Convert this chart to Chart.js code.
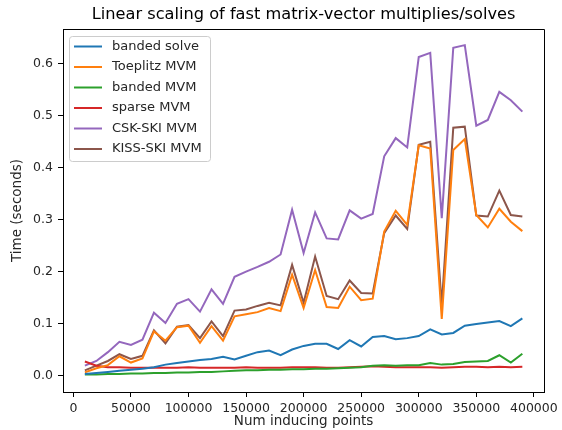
<!DOCTYPE html>
<html>
<head>
<meta charset="utf-8">
<title>Linear scaling of fast matrix-vector multiplies/solves</title>
<script src="https://cdn.jsdelivr.net/npm/chart.js@4/dist/chart.umd.min.js"></script>
<style>
  html, body { margin: 0; padding: 0; background: #fff; }
  canvas { display: block; }
</style>
</head>
<body>
<canvas id="scalingChart" width="562" height="430"></canvas>
<script>
// Number of inducing points (x) and timings in seconds for each method
const inducingPoints = [
  10000, 20000, 30000, 40000, 50000, 60000, 70000, 80000, 90000, 100000,
  110000, 120000, 130000, 140000, 150000, 160000, 170000, 180000, 190000, 200000,
  210000, 220000, 230000, 240000, 250000, 260000, 270000, 280000, 290000, 300000,
  310000, 320000, 330000, 340000, 350000, 360000, 370000, 380000, 390000
];

const bandedSolve = [
  0.003, 0.005, 0.007, 0.009, 0.011, 0.013, 0.016, 0.021, 0.024, 0.027,
  0.030, 0.032, 0.036, 0.031, 0.038, 0.045, 0.048, 0.039, 0.050, 0.057,
  0.061, 0.061, 0.051, 0.068, 0.056, 0.074, 0.076, 0.070, 0.072, 0.076,
  0.089, 0.079, 0.082, 0.096, 0.099, 0.102, 0.105, 0.095, 0.110
];

const toeplitzMvm = [
  0.006, 0.014, 0.020, 0.037, 0.025, 0.033, 0.085, 0.067, 0.093, 0.096,
  0.063, 0.095, 0.067, 0.114, 0.118, 0.122, 0.130, 0.124, 0.194, 0.130,
  0.203, 0.132, 0.130, 0.171, 0.145, 0.148, 0.277, 0.317, 0.290, 0.443,
  0.437, 0.109, 0.434, 0.455, 0.309, 0.285, 0.321, 0.296, 0.278
];

const bandedMvm = [
  0.002, 0.002, 0.003, 0.003, 0.004, 0.004, 0.005, 0.005, 0.006, 0.006,
  0.007, 0.007, 0.008, 0.009, 0.010, 0.010, 0.011, 0.011, 0.012, 0.012,
  0.013, 0.013, 0.014, 0.015, 0.016, 0.019, 0.020, 0.019, 0.020, 0.020,
  0.024, 0.021, 0.022, 0.026, 0.027, 0.028, 0.039, 0.025, 0.042
];

const sparseMvm = [
  0.027, 0.019, 0.016, 0.016, 0.015, 0.015, 0.015, 0.015, 0.015, 0.016,
  0.015, 0.015, 0.015, 0.015, 0.016, 0.015, 0.015, 0.015, 0.016, 0.016,
  0.016, 0.015, 0.015, 0.016, 0.017, 0.018, 0.017, 0.016, 0.016, 0.016,
  0.016, 0.015, 0.016, 0.017, 0.017, 0.016, 0.017, 0.016, 0.017
];

const cskSkiMvm = [
  0.019, 0.028, 0.045, 0.065, 0.059, 0.069, 0.121, 0.101, 0.138, 0.147,
  0.123, 0.166, 0.138, 0.190, 0.200, 0.209, 0.219, 0.233, 0.319, 0.236,
  0.314, 0.264, 0.262, 0.318, 0.302, 0.311, 0.422, 0.457, 0.439, 0.613,
  0.621, 0.303, 0.631, 0.636, 0.481, 0.492, 0.546, 0.530, 0.508
];

const kissSkiMvm = [
  0.010, 0.019, 0.028, 0.041, 0.032, 0.038, 0.087, 0.062, 0.094, 0.097,
  0.072, 0.104, 0.076, 0.125, 0.127, 0.134, 0.140, 0.135, 0.213, 0.140,
  0.229, 0.153, 0.147, 0.183, 0.159, 0.158, 0.274, 0.308, 0.282, 0.444,
  0.450, 0.135, 0.477, 0.479, 0.308, 0.306, 0.356, 0.309, 0.306
];

const seriesNames = ['banded solve', 'Toeplitz MVM', 'banded MVM', 'sparse MVM', 'CSK-SKI MVM', 'KISS-SKI MVM'];
const seriesData = [bandedSolve, toeplitzMvm, bandedMvm, sparseMvm, cskSkiMvm, kissSkiMvm];
const seriesColors = ['#1f77b4', '#ff7f0e', '#2ca02c', '#d62728', '#9467bd', '#8c564b'];

// tick positions on each axis
const xTicks = [0, 50000, 100000, 150000, 200000, 250000, 300000, 350000, 400000];
const yTicks = [0.0, 0.1, 0.2, 0.3, 0.4, 0.5, 0.6];

const chartTitle = 'Linear scaling of fast matrix-vector multiplies/solves';
const FONT = "'DejaVu Sans', sans-serif";
const TEXT = '#262626';

// title over the plot, top + right spines, and the boxed legend in the upper left
const framePlugin = {
  id: 'framePlugin',
  afterDraw(chart) {
    const ctx = chart.ctx;
    const a = chart.chartArea;
    ctx.save();

    ctx.fillStyle = '#000';
    ctx.font = '16.2px ' + FONT;
    ctx.textAlign = 'center';
    ctx.textBaseline = 'middle';
    ctx.fillText(chartTitle, (a.left + a.right) / 2, 15);

    ctx.strokeStyle = '#000';
    ctx.lineWidth = 1;
    ctx.beginPath();
    ctx.moveTo(Math.round(a.left) + 0.5, Math.round(a.top) + 0.5);
    ctx.lineTo(Math.round(a.right) + 0.5, Math.round(a.top) + 0.5);
    ctx.lineTo(Math.round(a.right) + 0.5, Math.round(a.bottom) + 0.5);
    ctx.stroke();

    // legend
    const bx = 69.5, by = 36.5, bw = 141, bh = 125, r = 3;
    ctx.beginPath();
    ctx.moveTo(bx + r, by);
    ctx.arcTo(bx + bw, by, bx + bw, by + bh, r);
    ctx.arcTo(bx + bw, by + bh, bx, by + bh, r);
    ctx.arcTo(bx, by + bh, bx, by, r);
    ctx.arcTo(bx, by, bx + bw, by, r);
    ctx.closePath();
    ctx.fillStyle = 'rgba(255,255,255,0.8)';
    ctx.fill();
    ctx.strokeStyle = '#cccccc';
    ctx.stroke();

    ctx.font = '13px ' + FONT;
    ctx.textBaseline = 'middle';
    ctx.textAlign = 'left';
    chart.data.datasets.forEach((ds, i) => {
      const y = 46.5 + i * 20.5;
      ctx.strokeStyle = ds.borderColor;
      ctx.lineWidth = 2;
      ctx.beginPath();
      ctx.moveTo(74, y);
      ctx.lineTo(102, y);
      ctx.stroke();
      ctx.fillStyle = TEXT;
      ctx.fillText(ds.label, 112, y);
    });
    ctx.restore();
  }
};

new Chart(document.getElementById('scalingChart'), {
  type: 'line',
  data: {
    datasets: seriesNames.map((name, i) => ({
      label: name,
      data: inducingPoints.map((x, j) => ({ x: x, y: seriesData[i][j] })),
      borderColor: seriesColors[i],
      backgroundColor: seriesColors[i],
      borderWidth: 2,
      pointRadius: 0,
      tension: 0,
      fill: false
    }))
  },
  options: {
    responsive: false,
    animation: false,
    layout: { padding: { left: 8, right: 13, top: 29, bottom: 0 } },
    plugins: {
      legend: { display: false },
      tooltip: { enabled: false },
      title: { display: false }
    },
    scales: {
      x: {
        type: 'linear',
        min: -9000,
        max: 409000,
        afterFit(scale) { scale.height = 38; },
        afterBuildTicks(scale) { scale.ticks = xTicks.map(v => ({ value: v })); },
        ticks: {
          autoSkip: false,
          maxRotation: 0,
          color: TEXT,
          padding: 4,
          font: { family: FONT, size: 12.5 },
          callback: v => String(v)
        },
        grid: { drawOnChartArea: false, drawTicks: true, tickLength: 5, color: '#000' },
        border: { display: true, color: '#000' },
        title: {
          display: true,
          text: 'Num inducing points',
          color: TEXT,
          font: { family: FONT, size: 13.5 },
          padding: { top: 0, bottom: 0 }
        }
      },
      y: {
        type: 'linear',
        min: -0.0317,
        max: 0.667,
        afterFit(scale) { scale.width = 55; },
        afterBuildTicks(scale) { scale.ticks = yTicks.map(v => ({ value: v })); },
        ticks: {
          color: TEXT,
          padding: 5,
          font: { family: FONT, size: 12.5 },
          callback: v => Number(v).toFixed(1)
        },
        grid: { drawOnChartArea: false, drawTicks: true, tickLength: 5, color: '#000' },
        border: { display: true, color: '#000' },
        title: {
          display: true,
          text: 'Time (seconds)',
          color: TEXT,
          font: { family: FONT, size: 13.5 },
          padding: { top: 1, bottom: 0 }
        }
      }
    }
  },
  plugins: [framePlugin]
});
</script>
</body>
</html>
